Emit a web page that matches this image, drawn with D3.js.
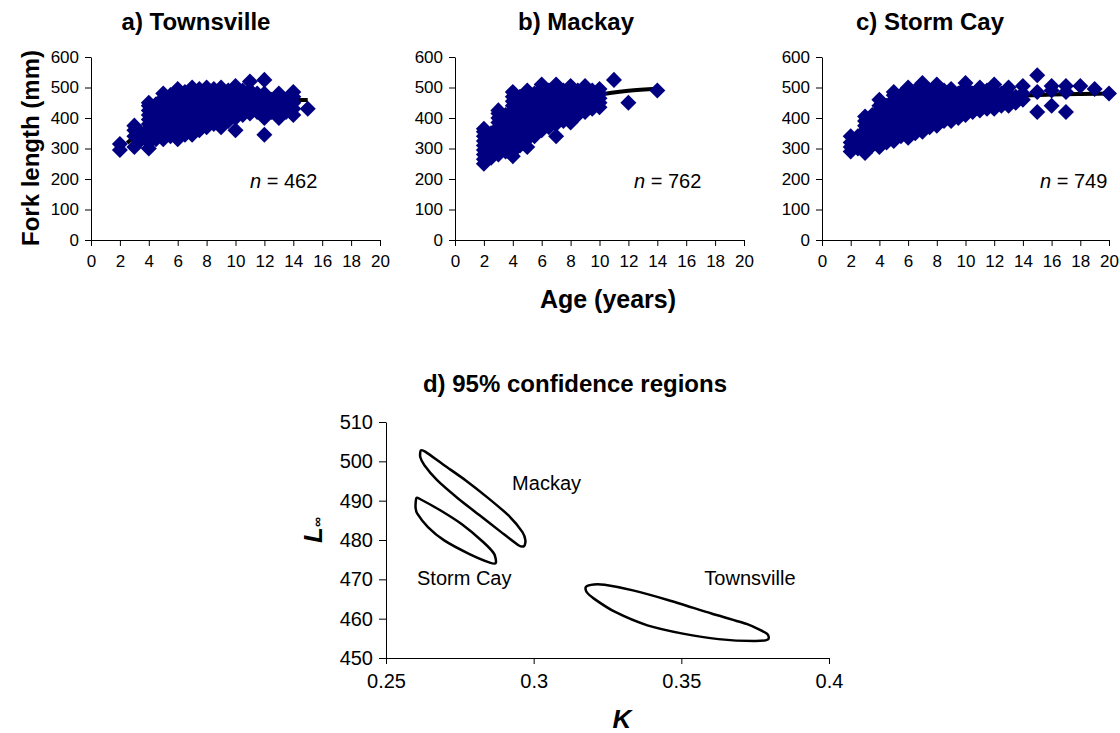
<!DOCTYPE html>
<html>
<head>
<meta charset="utf-8">
<script src="https://cdn.jsdelivr.net/npm/d3@7"></script>
<style>
  body { margin: 0; background: #fff; }
  text { font-family: Arial, "Liberation Sans", sans-serif; }
</style>
</head>
<body>
<svg id="chart" width="1120" height="733"></svg>
<script>
// ---- data ----
const age_ticks = [0, 2, 4, 6, 8, 10, 12, 14, 16, 18, 20];
const length_ticks = [0, 100, 200, 300, 400, 500, 600];

// [age, fork lengths at that age]
const townsville_points = [
  [2, [295, 315]],
  [3, [305, 340, 360, 375]],
  [3.5, [330, 350]],
  [4, [300, 320, 335, 350, 365, 380, 395, 410, 425, 440, 450]],
  [4.5, [330, 350, 370, 390, 410, 430, 445]],
  [5, [330, 345, 360, 375, 390, 405, 420, 435, 450, 465, 480]],
  [5.5, [340, 360, 380, 400, 420, 440, 460, 475]],
  [6, [330, 350, 365, 380, 395, 410, 425, 440, 455, 470, 485, 495]],
  [6.5, [345, 365, 385, 405, 425, 445, 465, 485]],
  [7, [345, 360, 375, 390, 405, 420, 435, 450, 465, 480, 500]],
  [7.5, [360, 380, 400, 420, 440, 460, 480, 495]],
  [8, [370, 385, 400, 415, 430, 445, 460, 475, 490, 500]],
  [8.5, [380, 400, 420, 440, 460, 480, 495]],
  [9, [370, 385, 400, 415, 430, 445, 460, 475, 490, 500]],
  [9.5, [390, 410, 430, 450, 470, 490]],
  [10, [360, 400, 415, 430, 445, 460, 475, 490, 505]],
  [10.5, [410, 430, 450, 470, 490]],
  [11, [415, 430, 445, 460, 475, 490, 520]],
  [11.5, [420, 440, 460, 480]],
  [12, [345, 400, 415, 430, 445, 460, 480, 525]],
  [12.5, [420, 440, 460]],
  [13, [400, 420, 440, 460, 480]],
  [13.5, [420, 440, 460]],
  [14, [410, 430, 450, 470, 485]],
  [15, [430]]
];
const mackay_points = [
  [2, [250, 265, 280, 295, 310, 325, 340, 355, 365]],
  [2.5, [270, 290, 310, 330, 350]],
  [3, [280, 295, 310, 325, 340, 355, 370, 385, 400, 415, 425]],
  [3.5, [290, 310, 330, 350, 370, 390, 410]],
  [4, [275, 290, 305, 320, 335, 350, 365, 380, 395, 410, 425, 440, 455, 470, 485]],
  [4.5, [310, 330, 350, 370, 390, 410, 430, 450, 470]],
  [5, [305, 330, 345, 360, 375, 390, 405, 420, 435, 450, 465, 480, 490]],
  [5.5, [340, 360, 380, 400, 420, 440, 460, 480]],
  [6, [360, 375, 390, 405, 420, 435, 450, 465, 480, 495, 510]],
  [6.5, [370, 390, 410, 430, 450, 470, 490]],
  [7, [340, 380, 395, 410, 425, 440, 455, 470, 485, 500, 510]],
  [7.5, [390, 410, 430, 450, 470, 490]],
  [8, [385, 400, 415, 430, 445, 460, 475, 490, 505]],
  [8.5, [410, 430, 450, 470, 490]],
  [9, [420, 435, 450, 465, 480, 495, 505]],
  [9.5, [430, 450, 470, 490]],
  [10, [435, 450, 465, 480, 495]],
  [11, [525]],
  [12, [450]],
  [14, [490]]
];
const stormcay_points = [
  [2, [290, 305, 320, 340]],
  [2.5, [300, 320, 340]],
  [3, [285, 300, 315, 330, 345, 360, 375, 390, 405]],
  [3.5, [310, 330, 350, 370, 390, 410]],
  [4, [305, 320, 335, 350, 365, 380, 395, 410, 425, 440, 460]],
  [4.5, [320, 340, 360, 380, 400, 420, 440]],
  [5, [325, 340, 355, 370, 385, 400, 415, 430, 445, 460, 475, 485]],
  [5.5, [340, 360, 380, 400, 420, 440, 460, 475]],
  [6, [335, 350, 365, 380, 395, 410, 425, 440, 455, 470, 485, 500]],
  [6.5, [350, 370, 390, 410, 430, 450, 470, 490]],
  [7, [355, 370, 385, 400, 415, 430, 445, 460, 475, 490, 505, 515]],
  [7.5, [370, 390, 410, 430, 450, 470, 490]],
  [8, [375, 390, 405, 420, 435, 450, 465, 480, 495, 510]],
  [8.5, [390, 410, 430, 450, 470, 490]],
  [9, [390, 405, 420, 435, 450, 465, 480, 495]],
  [9.5, [400, 420, 440, 460, 480]],
  [10, [410, 425, 440, 455, 470, 485, 500, 515]],
  [10.5, [420, 440, 460, 480]],
  [11, [425, 440, 455, 470, 485, 500]],
  [11.5, [430, 450, 470, 490]],
  [12, [430, 445, 460, 475, 490, 510]],
  [12.5, [440, 460, 480]],
  [13, [440, 460, 480, 500]],
  [13.5, [450, 470]],
  [14, [460, 480, 505]],
  [15, [420, 485, 540]],
  [16, [440, 490, 505]],
  [17, [420, 485, 505]],
  [18, [505]],
  [19, [495]],
  [20, [480]]
];

// fitted growth curves (age, length)
const townsville_curve = [[2.5, 318], [4, 375], [6, 415], [8, 437], [10, 449], [12, 455], [14, 458], [15, 459]];
const mackay_curve = [[2, 300], [4, 370], [6, 420], [8, 452], [10, 476], [12, 489], [14, 496]];
const stormcay_curve = [[2, 300], [4, 365], [6, 410], [8, 440], [10, 458], [12, 468], [14, 474], [16, 477], [18, 479], [20, 480]];

const sample_sizes = ['462', '762', '749'];
const panel_titles = ['a) Townsville', 'b) Mackay', 'c) Storm Cay'];

// 95% confidence regions, outline points (K, Linf)
const k_ticks = [0.25, 0.3, 0.35, 0.4];
const linf_ticks = [450, 460, 470, 480, 490, 500, 510];
const mackay_region = [[0.2618, 502.8], [0.2634, 502.4], [0.2697, 499.0], [0.2769, 495.2], [0.2842, 490.9],
  [0.2914, 486.3], [0.2962, 482.0], [0.2972, 479.9], [0.2968, 478.5], [0.2950, 478.6], [0.2890, 482.0],
  [0.2817, 486.3], [0.2745, 490.5], [0.2673, 495.2], [0.2630, 499.0], [0.2616, 501.1]];
const stormcay_region = [[0.2603, 490.7], [0.2618, 490.3], [0.2685, 487.5], [0.2757, 484.0], [0.2829, 479.5],
  [0.2866, 476.5], [0.2872, 474.2], [0.2854, 474.2], [0.2781, 476.5], [0.2697, 479.9], [0.2642, 483.3],
  [0.2606, 486.7], [0.2600, 488.4]];
const townsville_region = [[0.3177, 468.1], [0.3204, 468.7], [0.3240, 468.6], [0.3336, 467.2], [0.3457, 464.7],
  [0.3602, 461.3], [0.3723, 458.6], [0.3789, 456.2], [0.3793, 454.7], [0.3747, 454.3], [0.3626, 454.8],
  [0.3505, 456.2], [0.3385, 458.3], [0.3276, 461.7], [0.3204, 465.1], [0.3179, 466.8]];
const region_labels = [
  { name: 'Mackay', k: 0.2927, linf: 492.7 },
  { name: 'Storm Cay', k: 0.2605, linf: 468.6 },
  { name: 'Townsville', k: 0.3578, linf: 468.6 }
];

// ---- drawing ----
const svg = d3.select('#chart');
const font = 'Arial, "Liberation Sans", sans-serif';
const navy = '#000080';

function style_axis(g, size) {
  g.attr('font-family', font).attr('font-size', size);
  g.selectAll('path, line').attr('stroke', '#000').attr('stroke-width', 1);
  g.selectAll('text').attr('fill', '#000');
}

// 一个生长曲线小图
function draw_growth(points, curve, n, title, left, right, n_x, n_y, title_x) {
  let x = d3.scaleLinear([0, 20], [left, right]);
  let y = d3.scaleLinear([0, 600], [240, 57]);

  svg.append('g')
    .attr('transform', 'translate(0,240)')
    .call(d3.axisBottom(x).tickValues(age_ticks).tickSize(6).tickSizeOuter(0).tickPadding(9))
    .call(g => style_axis(g, 17));
  svg.append('g')
    .attr('transform', `translate(${left},0)`)
    .call(d3.axisLeft(y).tickValues(length_ticks).tickSize(6).tickSizeOuter(0).tickPadding(6))
    .call(g => style_axis(g, 17));

  // 拟合曲线 (画在点下面)
  svg.append('path')
    .datum(curve)
    .attr('fill', 'none')
    .attr('stroke', '#000')
    .attr('stroke-width', 4)
    .attr('d', d3.line().x(d => x(d[0])).y(d => y(d[1])).curve(d3.curveMonotoneX));

  let flat = points.flatMap(([a, ls]) => ls.map(l => [a, l]));
  svg.append('g').selectAll('path')
    .data(flat)
    .join('path')
    .attr('d', d3.symbol(d3.symbolSquare, 128))
    .attr('transform', d => `translate(${x(d[0])},${y(d[1])}) rotate(45)`)
    .attr('fill', navy);

  let t = svg.append('text')
    .attr('x', n_x).attr('y', n_y)
    .attr('font-size', 20);
  t.append('tspan').attr('font-style', 'italic').text('n');
  t.append('tspan').text(' = ' + n);

  svg.append('text')
    .attr('x', title_x).attr('y', 30)
    .attr('text-anchor', 'middle')
    .attr('font-size', 24).attr('font-weight', 'bold')
    .text(title);
}

draw_growth(townsville_points, townsville_curve, sample_sizes[0], panel_titles[0], 91, 380, 250, 188, 196);
draw_growth(mackay_points, mackay_curve, sample_sizes[1], panel_titles[1], 455, 744, 634, 188, 576);
draw_growth(stormcay_points, stormcay_curve, sample_sizes[2], panel_titles[2], 822, 1109, 1040, 188, 930);

svg.append('text')
  .attr('transform', 'translate(39,148) rotate(-90)')
  .attr('text-anchor', 'middle')
  .attr('font-size', 24).attr('font-weight', 'bold')
  .text('Fork length (mm)');
svg.append('text')
  .attr('x', 608).attr('y', 308)
  .attr('text-anchor', 'middle')
  .attr('font-size', 25).attr('font-weight', 'bold')
  .text('Age (years)');

// 置信区域图
let kx = d3.scaleLinear([0.25, 0.4], [386, 829]);
let ly = d3.scaleLinear([450, 510], [658, 422]);

svg.append('g')
  .attr('transform', 'translate(0,658)')
  .call(d3.axisBottom(kx).tickValues(k_ticks).tickFormat(d => String(d)).tickSize(6).tickSizeOuter(0).tickPadding(10))
  .call(g => style_axis(g, 20));
svg.append('g')
  .attr('transform', 'translate(386,0)')
  .call(d3.axisLeft(ly).tickValues(linf_ticks).tickSize(7).tickSizeOuter(0).tickPadding(6))
  .call(g => style_axis(g, 20));

let outline = d3.line().x(d => kx(d[0])).y(d => ly(d[1])).curve(d3.curveCardinalClosed.tension(0.3));
svg.append('g').selectAll('path')
  .data([mackay_region, stormcay_region, townsville_region])
  .join('path')
  .attr('d', outline)
  .attr('fill', 'none')
  .attr('stroke', '#000')
  .attr('stroke-width', 2.5);

svg.append('g').selectAll('text')
  .data(region_labels)
  .join('text')
  .attr('x', d => kx(d.k)).attr('y', d => ly(d.linf))
  .attr('font-size', 20)
  .text(d => d.name);

svg.append('text')
  .attr('x', 575).attr('y', 392)
  .attr('text-anchor', 'middle')
  .attr('font-size', 24).attr('font-weight', 'bold')
  .text('d) 95% confidence regions');

svg.append('text')
  .attr('x', 622).attr('y', 728)
  .attr('text-anchor', 'middle')
  .attr('font-size', 26).attr('font-weight', 'bold').attr('font-style', 'italic')
  .text('K');

let lt = svg.append('text')
  .attr('transform', 'translate(322,530) rotate(-90)')
  .attr('text-anchor', 'middle')
  .attr('font-weight', 'bold').attr('font-style', 'italic');
lt.append('tspan').attr('font-size', 26).text('L');
lt.append('tspan').attr('font-size', 14).attr('dy', 0).text('∞');
</script>
</body>
</html>
